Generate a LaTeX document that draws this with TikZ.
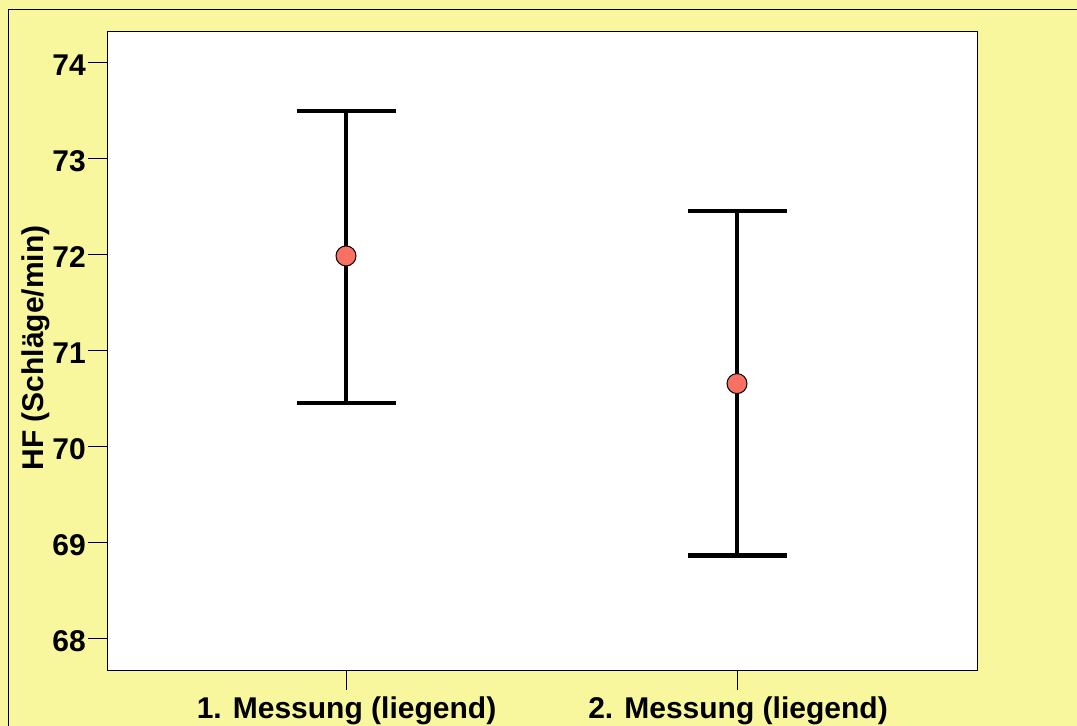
\documentclass[tikz,border=0pt]{standalone}
\usepackage{fontspec}
\setmainfont{Liberation Sans}
\definecolor{chartbg}{RGB}{248,247,157}
\definecolor{markred}{RGB}{250,112,98}
\tikzset{
  axislabel/.style={font=\fontsize{30}{30}\selectfont\bfseries,inner sep=0pt},
  errbar/.style={line width=4.5pt},
  meanmark/.style={circle,draw,line width=1pt,fill=markred,minimum size=20pt,inner sep=0pt},
}
\begin{document}
\begin{tikzpicture}[x=1pt,y=-1pt]
        %% Frame
        \useasboundingbox (0,0) rectangle (1077,726);
        \clip (0,0) rectangle (1077,726);
        \fill[chartbg] (0,0) rectangle (1077,726);
        \draw[line width=1.5pt] (8.5,9.5) rectangle (1100,760);
        %% Plot area
        \draw[fill=white,line width=1pt] (107,31) rectangle (977,670);
        %% y axis
        \foreach \v [count=\i from 0] in {74,73,...,68}
            \draw (88,62+96*\i) -- (107,62+96*\i)
                node[axislabel,anchor=east] (tick\v) at (86,65+96*\i) {\v};
        \node[axislabel,rotate=90,anchor=base] (ylabel) at (43,348) {HF (Schläge/min)};
        %% x axis
        \draw (346,670) -- (346,690);
        \draw (737,670) -- (737,690);
        \node[axislabel,anchor=base] (cat1) at (346.5,718.5) {1. Messung (liegend)};
        \node[axislabel,anchor=base] (cat2) at (738,718.5) {2. Messung (liegend)};
        %% Error bars
        \begin{scope}[yshift=-7166pt,y=96pt]
            \foreach \x/\lo/\m/\hi [count=\k] in {346/70.45/71.98/73.49, 737/68.86/70.65/72.45} {
                \coordinate (hi\k) at (\x,\hi);
                \coordinate (lo\k) at (\x,\lo);
                \draw[errbar] (hi\k) -- (lo\k);
                \draw[errbar] ([xshift=-49.5pt]hi\k) -- ([xshift=49.5pt]hi\k);
                \draw[errbar] ([xshift=-49.5pt]lo\k) -- ([xshift=49.5pt]lo\k);
                \node[meanmark] (mean\k) at (\x,\m) {};
            }
        \end{scope}
\end{tikzpicture}
\end{document}
